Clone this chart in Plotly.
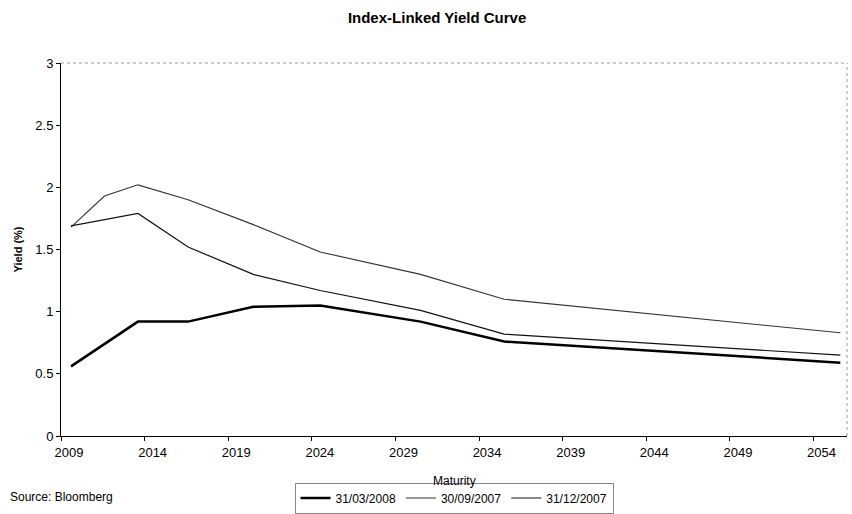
import plotly.graph_objects as go

# Maturity (decimal years) and yields (%)
mat_mar08 = [2009.6, 2011.6, 2013.6, 2016.6, 2020.5, 2024.5, 2030.5, 2035.5, 2055.6]
yld_mar08 = [0.56, 0.74, 0.92, 0.92, 1.04, 1.05, 0.92, 0.76, 0.59]

mat_sep07 = [2009.6, 2011.6, 2013.6, 2016.6, 2020.5, 2024.5, 2030.5, 2035.5, 2055.6]
yld_sep07 = [1.68, 1.93, 2.02, 1.90, 1.70, 1.48, 1.30, 1.10, 0.83]

mat_dec07 = [2009.6, 2011.6, 2013.6, 2016.6, 2020.5, 2024.5, 2030.5, 2035.5, 2055.6]
yld_dec07 = [1.69, 1.74, 1.79, 1.52, 1.30, 1.17, 1.01, 0.82, 0.65]

x_ticks = [2009, 2014, 2019, 2024, 2029, 2034, 2039, 2044, 2049, 2054]
y_ticks = [0, 0.5, 1, 1.5, 2, 2.5, 3]
y_tick_text = ["0", "0.5", "1", "1.5", "2", "2.5", "3"]

FONT = "Liberation Sans, Arial, sans-serif"

fig = go.Figure()
fig.add_trace(go.Scatter(x=mat_mar08, y=yld_mar08, mode="lines", name="31/03/2008",
                         line=dict(color="#000000", width=2.5)))
fig.add_trace(go.Scatter(x=mat_sep07, y=yld_sep07, mode="lines", name="30/09/2007",
                         line=dict(color="#333333", width=1.1)))
fig.add_trace(go.Scatter(x=mat_dec07, y=yld_dec07, mode="lines", name="31/12/2007",
                         line=dict(color="#111111", width=1.2)))

fig.update_layout(
    width=852, height=514,
    margin=dict(l=61, r=5, t=63, b=78, autoexpand=False),
    paper_bgcolor="white", plot_bgcolor="white",
    font=dict(family=FONT, size=13, color="#000000"),
    title=dict(text="<b>Index-Linked Yield Curve</b>", x=0.513, xanchor="center",
               y=1 - 18 / 514, yanchor="middle", font=dict(size=15, family=FONT)),
    showlegend=True,
    legend=dict(orientation="h", x=0.5, xanchor="center", xref="paper",
                y=-(498 - 436) / (436 - 63), yanchor="middle",
                bordercolor="#888888", borderwidth=1, bgcolor="white",
                font=dict(size=12, family=FONT), itemwidth=30,
                tracegroupgap=0, traceorder="normal"),
    xaxis=dict(range=[2009, 2056], tickmode="array", tickvals=x_ticks,
               ticktext=[str(v) for v in x_ticks], ticks="outside", ticklen=4,
               tickcolor="#000000", showline=True, linecolor="#000000", linewidth=1,
               showgrid=False, zeroline=False, ticklabelshift=8,
               tickfont=dict(size=13)),
    yaxis=dict(range=[0, 3], tickmode="array", tickvals=y_ticks, ticktext=y_tick_text,
               ticks="outside", ticklen=4, tickcolor="#000000", showline=True,
               linecolor="#000000", linewidth=1, showgrid=False, zeroline=False,
               tickfont=dict(size=13),
               title=dict(text="<b>Yield (%)</b>", font=dict(size=11), standoff=10)),
)

# dotted plot-area border (top/right)
fig.add_shape(type="line", xref="paper", yref="paper", x0=0, x1=1, y0=1, y1=1,
              line=dict(color="#999999", width=1, dash="dot"))
fig.add_shape(type="line", xref="paper", yref="paper", x0=1, x1=1, y0=0, y1=1,
              line=dict(color="#999999", width=1, dash="dot"))

fig.add_annotation(text="Maturity", xref="paper", yref="paper",
                   x=(454 - 61) / (847 - 61), y=-(481 - 436) / (436 - 63),
                   xanchor="center", yanchor="middle", showarrow=False,
                   font=dict(size=12, family=FONT))
fig.add_annotation(text="Source: Bloomberg", xref="paper", yref="paper",
                   x=-(61 - 8) / (847 - 61), y=-(497 - 436) / (436 - 63),
                   xanchor="left", yanchor="middle", showarrow=False,
                   font=dict(size=12, family=FONT))

fig.write_html("out.html")
